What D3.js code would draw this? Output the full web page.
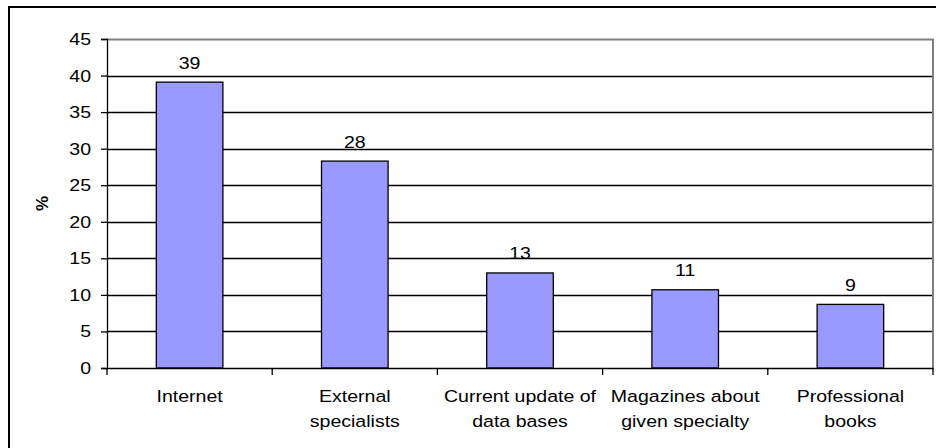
<!DOCTYPE html>
<html>
<head>
<meta charset="utf-8">
<script src="https://cdn.jsdelivr.net/npm/d3@7"></script>
<style>
  html, body { margin: 0; padding: 0; background: #fff; }
  svg { display: block; }
  text { font-family: "Liberation Sans", Arial, sans-serif; fill: #000; }
</style>
</head>
<body>
<svg id="chart" width="936" height="448"></svg>
<script>
const categories = ["Internet", "External specialists", "Current update of data bases", "Magazines about given specialty", "Professional books"];
const categoryLines = [["Internet"], ["External", "specialists"], ["Current update of", "data bases"], ["Magazines about", "given specialty"], ["Professional", "books"]];
const values = [39.1, 28.3, 13.0, 10.7, 8.7];
const valueLabels = ["39", "28", "13", "11", "9"];
const yTicks = [0, 5, 10, 15, 20, 25, 30, 35, 40, 45];
const yLabel = "%";

const svg = d3.select("#chart");
const W = 936, H = 448;
const plot = { left: 107, right: 933, top: 39, bottom: 368 };
const fs = 17, sx = 1.15;

// outer border
svg.append("rect").attr("x", 9).attr("y", 7).attr("width", W + 20).attr("height", H + 20)
  .attr("fill", "#fff").attr("stroke", "#000").attr("stroke-width", 2);

const x = d3.scaleBand().domain(categories).range([plot.left, plot.right]).padding(0);
const y = d3.scaleLinear().domain([0, 45]).range([plot.bottom, plot.top]);

// gridlines
svg.append("g").selectAll("line").data(yTicks.filter(t => t > 0 && t < 45)).join("line")
  .attr("x1", plot.left).attr("x2", plot.right)
  .attr("y1", d => Math.round(y(d)) + 0.5).attr("y2", d => Math.round(y(d)) + 0.5)
  .attr("stroke", "#000").attr("stroke-width", 1.3);

// plot border top/right (gray)
svg.append("path")
  .attr("d", `M${plot.left},${Math.round(y(45)) + 0.5}H${plot.right}V${plot.bottom}`)
  .attr("fill", "none").attr("stroke", "#808080").attr("stroke-width", 2);

// bars
const barW = x.bandwidth() * 0.403;
svg.append("g").selectAll("rect").data(values).join("rect")
  .attr("x", (d, i) => x(categories[i]) + x.bandwidth() / 2 - barW / 2)
  .attr("y", d => y(d))
  .attr("width", barW)
  .attr("height", d => y(0) - y(d))
  .attr("fill", "#9999FF").attr("stroke", "#000").attr("stroke-width", 1.3);

// value labels
svg.append("g").selectAll("text").data(values).join("text")
  .attr("transform", (d, i) => `translate(${x(categories[i]) + x.bandwidth() / 2},${y(d) - 13.5}) scale(${sx},1)`)
  .attr("text-anchor", "middle").attr("font-size", fs)
  .text((d, i) => valueLabels[i]);

// y axis
const yAxis = d3.axisLeft(y).tickValues(yTicks).tickSize(6).tickPadding(9);
const gy = svg.append("g").attr("transform", `translate(${plot.left},0)`).call(yAxis);
gy.select(".domain").attr("stroke", "#000").attr("stroke-width", 1.3);
gy.selectAll(".tick line").attr("stroke", "#000").attr("stroke-width", 1.3);
gy.selectAll(".tick text").attr("font-size", fs).attr("font-family", "Liberation Sans, Arial, sans-serif")
  .attr("fill", "#000")
  .each(function () {
    const t = d3.select(this);
    const xx = +t.attr("x");
    t.attr("x", null).attr("transform", `translate(${xx - 1},0) scale(${sx},1)`);
  });

// x axis
const xAxis = d3.axisBottom(x).tickSize(0).tickFormat("");
const gx = svg.append("g").attr("transform", `translate(0,${plot.bottom})`).call(xAxis);
gx.select(".domain").attr("stroke", "#000").attr("stroke-width", 1.3);
gx.selectAll(".tick").remove();
// boundary ticks
const bounds = categories.map(c => x(c)).concat([plot.right]);
gx.selectAll("line.bt").data(bounds).join("line").attr("class", "bt")
  .attr("x1", d => d).attr("x2", d => d).attr("y1", 0).attr("y2", 7)
  .attr("stroke", "#000").attr("stroke-width", 1.3);

// category labels
const cl = svg.append("g").selectAll("text").data(categoryLines).join("text")
  .attr("transform", (d, i) => `translate(${x(categories[i]) + x.bandwidth() / 2},402) scale(${sx},1)`)
  .attr("text-anchor", "middle").attr("font-size", fs);
cl.selectAll("tspan").data(d => d).join("tspan")
  .attr("x", 0).attr("dy", (d, j) => j === 0 ? 0 : 25)
  .text(d => d);

// y label
svg.append("text")
  .attr("transform", `translate(48,${(plot.top + plot.bottom) / 2}) rotate(-90)`)
  .attr("text-anchor", "middle").attr("font-size", 17).attr("font-weight", "bold")
  .text(yLabel);
</script>
</body>
</html>
